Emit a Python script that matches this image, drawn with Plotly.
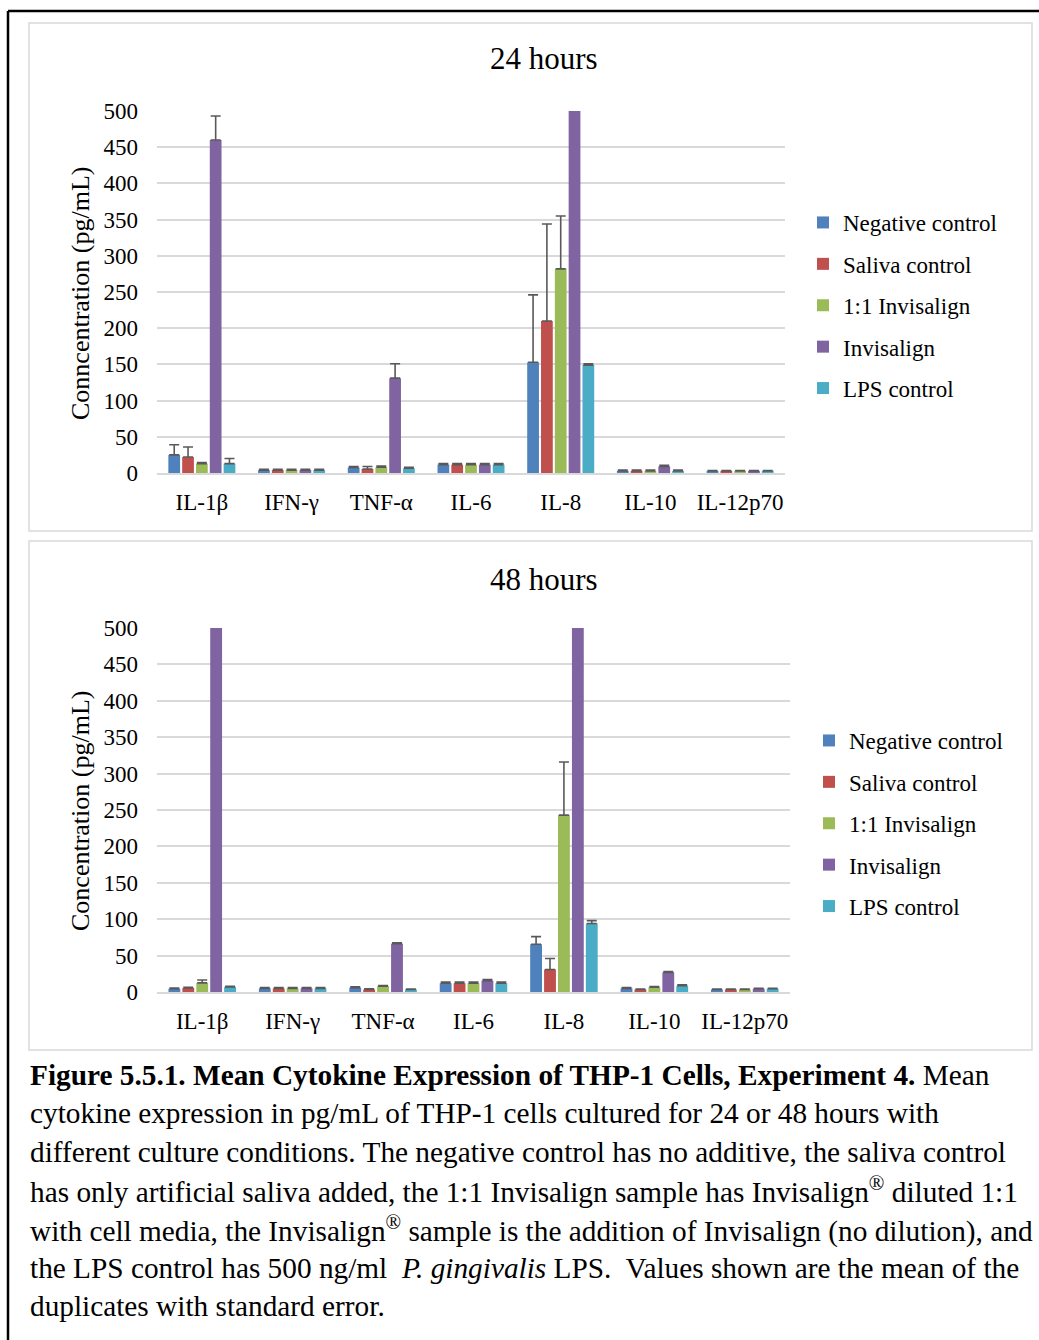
import plotly.graph_objects as go

W, H = 1039, 1340

categories = ["IL-1β", "IFN-γ", "TNF-α", "IL-6", "IL-8", "IL-10", "IL-12p70"]
series_names = ["Negative control", "Saliva control", "1:1 Invisalign", "Invisalign", "LPS control"]
colors = ["#4F81BD", "#C0504D", "#9BBB59", "#8064A2", "#4BACC6"]

# 24 hours
neg_24 = [25, 4, 7.5, 11.5, 153, 3, 3]
neg_24_err = [14, 1, 1.5, 1.5, 93, 1, 0.5]
sal_24 = [22, 4, 5.5, 11.5, 210, 3, 3]
sal_24_err = [14, 1, 3.5, 1.5, 134, 1, 0.5]
inv11_24 = [13, 4, 8, 11.5, 282, 3, 3]
inv11_24_err = [1.5, 1, 1.5, 1.5, 73, 1, 0.5]
inv_24 = [460, 4, 131, 11.5, 520, 9, 3]
inv_24_err = [33, 1, 20, 1.5, 0, 1.5, 0.5]
lps_24 = [13, 4, 6.5, 11.5, 149, 3, 3]
lps_24_err = [7, 1, 1.5, 1.5, 2, 1, 0.5]

# 48 hours
neg_48 = [4.5, 5, 6, 12, 65.5, 5, 3.5]
neg_48_err = [1, 1, 1, 1.5, 10.5, 1, 0.5]
sal_48 = [5.5, 5, 3.5, 12, 31, 3.5, 3.5]
sal_48_err = [1, 1, 1, 1.5, 15, 0.5, 0.5]
inv11_48 = [12.5, 5, 8, 12, 243, 6.5, 3.5]
inv11_48_err = [4, 1, 1, 1.5, 73, 1, 0.5]
inv_48 = [540, 5, 66.5, 15.5, 560, 27, 4.5]
inv_48_err = [0, 1, 1, 1.5, 0, 1, 0.5]
lps_48 = [7, 5, 3.5, 12, 94, 8.5, 4.5]
lps_48_err = [1, 1, 0.5, 1.5, 4, 1.5, 0.5]

y_ticks = [0, 50, 100, 150, 200, 250, 300, 350, 400, 450, 500]

data_24 = [(neg_24, neg_24_err), (sal_24, sal_24_err), (inv11_24, inv11_24_err),
           (inv_24, inv_24_err), (lps_24, lps_24_err)]
data_48 = [(neg_48, neg_48_err), (sal_48, sal_48_err), (inv11_48, inv11_48_err),
           (inv_48, inv_48_err), (lps_48, lps_48_err)]

FONT = "Liberation Serif, Times New Roman, serif"

def px(x):
    return x / W

def py(y):
    return 1 - y / H

fig = go.Figure()

for i, (vals, errs) in enumerate(data_24):
    fig.add_trace(go.Bar(
        x=categories, y=vals, name=series_names[i], marker_color=colors[i],
        marker_line_width=0,
        error_y=dict(type="data", array=errs, arrayminus=[0] * len(errs), symmetric=False,
                     color="#595959", thickness=1.6, width=5),
        xaxis="x", yaxis="y", legend="legend", legendgroup="a%d" % i,
    ))
for i, (vals, errs) in enumerate(data_48):
    fig.add_trace(go.Bar(
        x=categories, y=vals, name=series_names[i], marker_color=colors[i],
        marker_line_width=0,
        error_y=dict(type="data", array=errs, arrayminus=[0] * len(errs), symmetric=False,
                     color="#595959", thickness=1.6, width=5),
        xaxis="x2", yaxis="y2", legend="legend2", legendgroup="b%d" % i,
    ))

grid = "#D9D9D9"
yaxis_common = dict(range=[0, 500], tickvals=y_ticks, showgrid=True, gridcolor=grid, gridwidth=1.5,
                    zeroline=False, showline=False, ticks="", ticklabelstandoff=18, automargin=False,
                    tickfont=dict(family=FONT, size=23, color="#000"), fixedrange=True)
xaxis_common = dict(showgrid=False, showline=True, linecolor=grid, linewidth=1.5, ticks="",
                    ticklabelstandoff=8, automargin=False,
                    tickfont=dict(family=FONT, size=23, color="#000"))

legend_common = dict(font=dict(family=FONT, size=23, color="#000"), bgcolor="rgba(0,0,0,0)",
                     tracegroupgap=8.5, itemwidth=30, xanchor="left", yanchor="top")

fig.update_layout(
    width=W, height=H, margin=dict(l=0, r=0, t=0, b=0, pad=0, autoexpand=False),
    paper_bgcolor="white", plot_bgcolor="white",
    barmode="group", bargap=0.23, bargroupgap=0.15,
    xaxis=dict(domain=[px(157), px(785)], anchor="y", **xaxis_common),
    yaxis=dict(domain=[py(473), py(111)], anchor="x", **yaxis_common),
    xaxis2=dict(domain=[px(157), px(790)], anchor="y2", **xaxis_common),
    yaxis2=dict(domain=[py(992), py(628)], anchor="x2", **yaxis_common),
    legend=dict(x=px(803), y=py(201), **legend_common),
    legend2=dict(x=px(809), y=py(719), **legend_common),
    showlegend=True,
)

shapes = [
    # outer black frame (top and left edges)
    dict(type="line", xref="paper", yref="paper", x0=px(8), x1=1, y0=py(11), y1=py(11),
         line=dict(color="#000", width=2.5)),
    dict(type="line", xref="paper", yref="paper", x0=px(8), x1=px(8), y0=py(11), y1=0,
         line=dict(color="#000", width=2.5)),
    # chart boxes
    dict(type="rect", xref="paper", yref="paper", x0=px(29), x1=px(1032), y0=py(531), y1=py(23),
         line=dict(color=grid, width=1.5)),
    dict(type="rect", xref="paper", yref="paper", x0=px(29), x1=px(1032), y0=py(1050), y1=py(541),
         line=dict(color=grid, width=1.5)),
]
fig.update_layout(shapes=shapes)

ann = []
ann.append(dict(text="24 hours", x=px(544), y=py(59), xref="paper", yref="paper", showarrow=False,
                font=dict(family=FONT, size=31, color="#000"), xanchor="center", yanchor="middle"))
ann.append(dict(text="48 hours", x=px(544), y=py(580), xref="paper", yref="paper", showarrow=False,
                font=dict(family=FONT, size=31, color="#000"), xanchor="center", yanchor="middle"))
ann.append(dict(text="Conncentration (pg/mL)", x=px(80), y=py(294), xref="paper", yref="paper",
                showarrow=False, textangle=-90, font=dict(family=FONT, size=26, color="#000"),
                xanchor="center", yanchor="middle"))
ann.append(dict(text="Concentration (pg/mL)", x=px(80), y=py(811), xref="paper", yref="paper",
                showarrow=False, textangle=-90, font=dict(family=FONT, size=26, color="#000"),
                xanchor="center", yanchor="middle"))

caption_lines = [
    "<b>Figure 5.5.1. Mean Cytokine Expression of THP-1 Cells, Experiment 4.</b> Mean",
    "cytokine expression in pg/mL of THP-1 cells cultured for 24 or 48 hours with",
    "different culture conditions. The negative control has no additive, the saliva control",
    "has only artificial saliva added, the 1:1 Invisalign sample has Invisalign<sup>®</sup> diluted 1:1",
    "with cell media, the Invisalign<sup>®</sup> sample is the addition of Invisalign (no dilution), and",
    "the LPS control has 500 ng/ml  <i>P. gingivalis</i> LPS.  Values shown are the mean of the",
    "duplicates with standard error.",
]
caption_y = [1075, 1113, 1152, 1190, 1229, 1268, 1306]
for line, yy in zip(caption_lines, caption_y):
    ann.append(dict(text=line, x=px(28), y=py(yy), xref="paper", yref="paper", showarrow=False,
                    font=dict(family=FONT, size=29.3, color="#000"), xanchor="left", yanchor="middle",
                    align="left"))

fig.update_layout(annotations=ann)

fig.write_html("out.html")
